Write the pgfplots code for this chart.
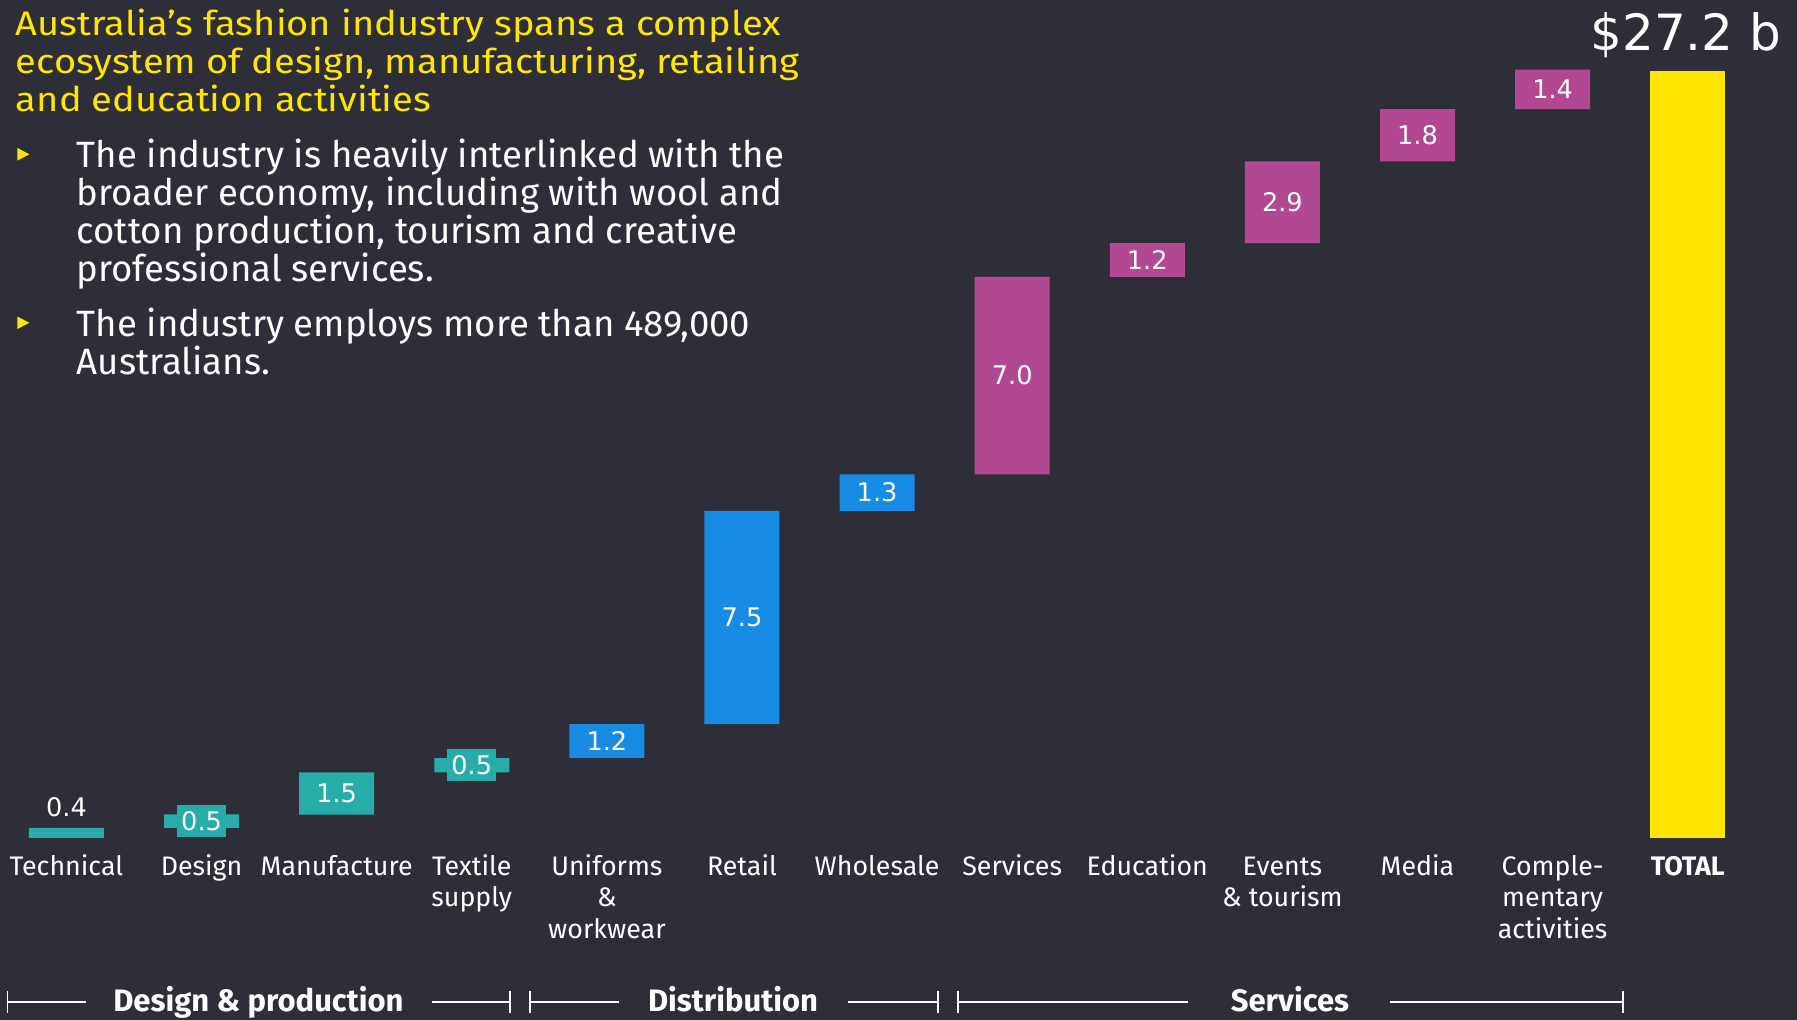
\documentclass[border=0pt]{standalone}
\usepackage{pgfplots}
\pgfplotsset{compat=1.18}
\usepackage{fontspec}
\setmainfont{Fira Sans}
\newfontfamily\titlefont{Fira Sans}[FakeStretch=1.12]
\newfontfamily\numfont{DejaVu Sans}
\definecolor{bg}{HTML}{2E2E38}
\definecolor{eyteal}{HTML}{27ACAA}
\definecolor{eyblue}{HTML}{188CE5}
\definecolor{eymag}{HTML}{B14891}
\definecolor{eyyel}{HTML}{FFE600}
\tikzset{vl/.style={text=white, font=\numfont\fontsize{12.8}{15}\selectfont, inner sep=0pt}}
\begin{document}
\begin{tikzpicture}[x=1pt,y=1pt]
\useasboundingbox (0,0) rectangle (898.5,510);
\clip (0,0) rectangle (898.5,510);
\fill[bg] (0,0) rectangle (898.5,510);
\begin{axis}[at={(0pt,91pt)}, anchor=south west, scale only axis,
  width=898.5pt, height=419pt,
  xmin=-0.492, xmax=12.809, ymin=0, ymax=29.72,
  ybar stacked, bar width=37.5pt,
  axis line style={draw=none}, tick style={draw=none},
  ytick=\empty, xtick={0,1,2,3,4,5,6,7,8,9,10,11,12},
  xticklabels={\strut Technical, \strut Design, \strut Manufacture, {\strut Textile\\supply}, {\strut Uniforms\\\&\\workwear}, \strut Retail, \strut Wholesale, \strut Services, \strut Education, {\strut Events\\\& tourism}, \strut Media, {\strut Comple-\\mentary\\activities}, {\strut\bfseries TOTAL}},
  xticklabel style={anchor=north, yshift=-7.3pt, align=center, font=\fontsize{13.4}{15.8}\selectfont, text=white, inner sep=0pt},
  clip=false]
\addplot[fill=none, draw=none] coordinates {(0,0) (1,0.36) (2,0.83) (3,2.33) (4,2.84) (5,4.04) (6,11.6) (7,12.9) (8,19.9) (9,21.1) (10,24.0) (11,25.85) (12,0)};
\addplot[fill=eyteal, draw=none] coordinates {(0,0.36) (1,0.48) (2,1.5) (3,0.5) (4,0) (5,0) (6,0) (7,0) (8,0) (9,0) (10,0) (11,0) (12,0)};
\addplot[fill=eyblue, draw=none] coordinates {(0,0) (1,0) (2,0) (3,0) (4,1.2) (5,7.56) (6,1.3) (7,0) (8,0) (9,0) (10,0) (11,0) (12,0)};
\addplot[fill=eymag, draw=none] coordinates {(0,0) (1,0) (2,0) (3,0) (4,0) (5,0) (6,0) (7,7.0) (8,1.2) (9,2.9) (10,1.85) (11,1.4) (12,0)};
\addplot[fill=eyyel, draw=none] coordinates {(0,0) (1,0) (2,0) (3,0) (4,0) (5,0) (6,0) (7,0) (8,0) (9,0) (10,0) (11,0) (12,27.2)};
\coordinate (l0) at (axis cs:0,0.745);
\coordinate (l1) at (axis cs:1,0.60);
\coordinate (l2) at (axis cs:2,1.58);
\coordinate (l3) at (axis cs:3,2.58);
\coordinate (l4) at (axis cs:4,3.44);
\coordinate (l5) at (axis cs:5,7.82);
\coordinate (l6) at (axis cs:6,12.25);
\coordinate (l7) at (axis cs:7,16.4);
\coordinate (l8) at (axis cs:8,20.5);
\coordinate (l9) at (axis cs:9,22.55);
\coordinate (l10) at (axis cs:10,24.93);
\coordinate (l11) at (axis cs:11,26.55);
\end{axis}
\node[vl, anchor=base] at (l0) {0.4};
\node[vl, fill=eyteal, minimum width=24.5pt, minimum height=16pt] at (l1) {0.5};
\node[vl] at (l2) {1.5};
\node[vl, fill=eyteal, minimum width=24.5pt, minimum height=16pt] at (l3) {0.5};
\node[vl] at (l4) {1.2};
\node[vl] at (l5) {7.5};
\node[vl] at (l6) {1.3};
\node[vl] at (l7) {7.0};
\node[vl] at (l8) {1.2};
\node[vl] at (l9) {2.9};
\node[vl] at (l10) {1.8};
\node[vl] at (l11) {1.4};
\node[anchor=base west, align=left, inner sep=0, text=eyyel, font=\titlefont\fontsize{17}{19}\selectfont] at (7.8,454) {Australia’s fashion industry spans a complex\\ecosystem of design, manufacturing, retailing\\and education activities};
\node[anchor=base west, align=left, inner sep=0, text=white, font=\fontsize{18.3}{19}\selectfont] at (38.2,369.1) {The industry is heavily interlinked with the\\broader economy, including with wool and\\cotton production, tourism and creative\\professional services.};
\node[anchor=base west, align=left, inner sep=0, text=white, font=\fontsize{18.3}{19.1}\selectfont] at (38.2,322.5) {The industry employs more than 489,000\\Australians.};
\fill[eyyel] (8.7,429.7) -- (8.7,436) -- (14.7,432.85) -- cycle;
\fill[eyyel] (8.7,345.5) -- (8.7,351.7) -- (14.7,348.6) -- cycle;
\node[anchor=base east, inner sep=0, text=white, font=\numfont\fontsize{25}{30}\selectfont] at (890.8,484.6) {\$27.2 b};
\draw[white, line width=0.8pt] (3.75,9) -- (43,9) (216,9) -- (255,9) (3.75,3.5) -- (3.75,14.5) (255,3.5) -- (255,14.5);
\draw[white, line width=0.8pt] (265,9) -- (309.5,9) (424,9) -- (469,9) (265,3.5) -- (265,14.5) (469,3.5) -- (469,14.5);
\draw[white, line width=0.8pt] (479,9) -- (594,9) (695,9) -- (811.4,9) (479,3.5) -- (479,14.5) (811.4,3.5) -- (811.4,14.5);
\node[anchor=base, inner sep=0, text=white, font=\fontsize{15.5}{17}\selectfont\bfseries] at (129.2,4.15) {Design \& production};
\node[anchor=base, inner sep=0, text=white, font=\fontsize{15.5}{17}\selectfont\bfseries] at (366.5,4.15) {Distribution};
\node[anchor=base, inner sep=0, text=white, font=\fontsize{15.5}{17}\selectfont\bfseries] at (645,4.15) {Services};
\end{tikzpicture}
\end{document}
